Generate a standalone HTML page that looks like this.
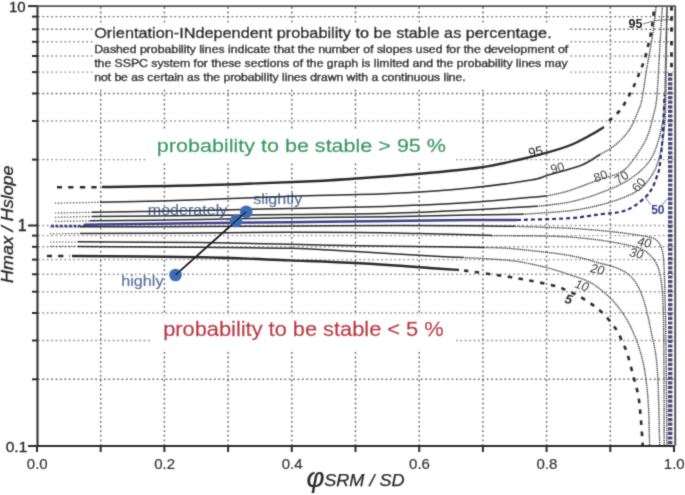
<!DOCTYPE html><html><head><meta charset="utf-8"><style>
html,body{margin:0;padding:0;background:#fff;width:685px;height:495px;overflow:hidden}
svg{display:block}
text{font-family:"Liberation Sans",sans-serif}
.tx{stroke-width:0.35px;paint-order:stroke}
</style></head><body><div>
<svg width="685" height="495" viewBox="0 0 685 495">
<defs><filter id="bl" filterUnits="userSpaceOnUse" x="0" y="0" width="685" height="495"><feConvolveMatrix order="3" kernelMatrix="0.0225 0.1050 0.0225 0.1050 0.4900 0.1050 0.0225 0.1050 0.0225" divisor="1" edgeMode="duplicate"/></filter></defs>
<rect width="685" height="495" fill="#fff"/>
<g filter="url(#bl)">
<g stroke="#7a7a7a" stroke-width="1.4" stroke-dasharray="1.7 2.7" fill="none">
<line x1="38" y1="16.6" x2="674" y2="16.6" stroke="#6a6a6a"/>
<line x1="38" y1="29.3" x2="674" y2="29.3" stroke="#6a6a6a"/>
<line x1="38" y1="41.8" x2="674" y2="41.8" stroke="#8e8e8e"/>
<line x1="38" y1="56.0" x2="674" y2="56.0" stroke="#8e8e8e"/>
<line x1="38" y1="72.1" x2="674" y2="72.1" stroke="#8e8e8e"/>
<line x1="38" y1="93.5" x2="674" y2="93.5" stroke="#6a6a6a"/>
<line x1="38" y1="121.0" x2="674" y2="121.0" stroke="#8e8e8e"/>
<line x1="38" y1="159.6" x2="674" y2="159.6" stroke="#8e8e8e"/>
<line x1="38" y1="225.5" x2="674" y2="225.5" stroke="#8e8e8e"/>
<line x1="38" y1="235.6" x2="674" y2="235.6" stroke="#8e8e8e"/>
<line x1="38" y1="246.8" x2="674" y2="246.8" stroke="#8e8e8e"/>
<line x1="38" y1="259.6" x2="674" y2="259.6" stroke="#8e8e8e"/>
<line x1="38" y1="274.3" x2="674" y2="274.3" stroke="#8e8e8e"/>
<line x1="38" y1="291.7" x2="674" y2="291.7" stroke="#8e8e8e"/>
<line x1="38" y1="313.0" x2="674" y2="313.0" stroke="#8e8e8e"/>
<line x1="38" y1="340.5" x2="674" y2="340.5" stroke="#8e8e8e"/>
<line x1="38" y1="379.3" x2="674" y2="379.3" stroke="#6a6a6a"/>
<line x1="100.7" y1="7" x2="100.7" y2="446" stroke="#646464" stroke-dasharray="1.8 2.8"/>
<line x1="164.4" y1="7" x2="164.4" y2="446" stroke="#646464" stroke-dasharray="1.8 2.8"/>
<line x1="228.1" y1="7" x2="228.1" y2="446" stroke="#646464" stroke-dasharray="1.8 2.8"/>
<line x1="291.8" y1="7" x2="291.8" y2="446" stroke="#646464" stroke-dasharray="1.8 2.8"/>
<line x1="355.5" y1="7" x2="355.5" y2="446" stroke="#646464" stroke-dasharray="1.8 2.8"/>
<line x1="419.2" y1="7" x2="419.2" y2="446" stroke="#646464" stroke-dasharray="1.8 2.8"/>
<line x1="482.9" y1="7" x2="482.9" y2="446" stroke="#646464" stroke-dasharray="1.8 2.8"/>
<line x1="546.6" y1="7" x2="546.6" y2="446" stroke="#646464" stroke-dasharray="1.8 2.8"/>
<line x1="610.3" y1="7" x2="610.3" y2="446" stroke="#646464" stroke-dasharray="1.8 2.8"/>
</g>
<rect x="93" y="23" width="475" height="65" fill="#fff"/>
<rect x="147" y="131" width="309" height="30.5" fill="#fff"/>
<rect x="151" y="315.5" width="304" height="33.5" fill="#fff"/>
<text x="147.8" y="215.4" font-size="14.0" fill="#54709c" stroke="#54709c" stroke-width="0.15" textLength="79.5" lengthAdjust="spacingAndGlyphs">moderately</text>
<text x="253.2" y="204.4" font-size="14.5" fill="#54709c" stroke="#54709c" stroke-width="0.15" textLength="49.0" lengthAdjust="spacingAndGlyphs">slightly</text>
<text x="121.2" y="285.7" font-size="15.0" fill="#54709c" stroke="#54709c" stroke-width="0.15" textLength="42.3" lengthAdjust="spacingAndGlyphs">highly</text>
<path d="M57.0,187.3 C63.8,187.3 91.2,187.3 98.0,187.3" fill="none" stroke="#2b2b2b" stroke-width="2.60" stroke-dasharray="5.2 6.2" stroke-linecap="butt" stroke-linejoin="round"/>
<path d="M102.0,187.0 C118.3,186.7 167.0,186.2 200.0,185.3 C233.0,184.4 273.3,183.0 300.0,181.8 C326.7,180.6 340.0,179.6 360.0,178.3 C380.0,177.0 400.0,175.6 420.0,173.8 C440.0,172.0 463.3,169.9 480.0,167.5 C496.7,165.1 508.8,162.0 520.0,159.5 C531.2,157.0 538.3,155.2 547.0,152.7 C555.7,150.2 564.5,147.6 572.0,144.5 C579.5,141.4 586.7,137.2 592.0,134.3 C597.3,131.4 602.0,128.2 604.0,127.0" fill="none" stroke="#2b2b2b" stroke-width="2.40" stroke-linecap="butt" stroke-linejoin="round"/>
<path d="M609.0,121.0 C610.8,119.2 617.2,113.8 620.0,110.5 C622.8,107.2 623.8,104.8 626.0,101.0 C628.2,97.2 630.7,92.9 633.0,88.0 C635.3,83.1 638.1,76.3 640.0,71.5 C641.9,66.7 643.4,63.2 644.6,59.3 C645.9,55.4 646.6,51.6 647.5,48.0 C648.4,44.4 649.3,41.2 650.0,37.9 C650.7,34.6 651.3,31.3 651.8,28.0 C652.3,24.7 652.8,21.5 653.2,18.0 C653.6,14.5 653.9,8.8 654.0,7.0" fill="none" stroke="#2b2b2b" stroke-width="2.60" stroke-dasharray="4.3 6.3" stroke-linecap="butt" stroke-linejoin="round"/>
<path d="M55.0,203.2 C62.5,203.0 92.5,202.5 100.0,202.3" fill="none" stroke="#2b2b2b" stroke-width="1.20" stroke-dasharray="1.5 1.5" opacity="0.80" stroke-linecap="butt" stroke-linejoin="round"/>
<path d="M100.0,202.3 C116.7,201.9 168.3,200.8 200.0,199.8 C231.7,198.8 258.3,197.3 290.0,196.3 C321.7,195.3 360.0,195.0 390.0,193.6 C420.0,192.2 446.5,190.3 470.0,188.0 C493.5,185.7 518.2,182.1 531.0,180.0 C543.8,177.9 538.5,178.0 547.0,175.5 C555.5,173.0 573.2,168.5 582.0,165.0 C590.8,161.5 597.0,156.2 600.0,154.5" fill="none" stroke="#2b2b2b" stroke-width="1.50" stroke-linecap="butt" stroke-linejoin="round"/>
<path d="M582.0,165.0 C585.0,163.2 595.2,157.3 600.0,154.5 C604.8,151.7 607.3,150.8 610.9,148.2 C614.5,145.6 618.5,142.5 621.8,139.0 C625.1,135.5 628.2,132.0 630.9,127.3 C633.6,122.6 636.4,115.5 638.2,110.9 C640.0,106.4 640.4,106.8 641.8,100.0 C643.2,93.2 645.0,79.2 646.5,70.0 C648.0,60.8 649.8,52.5 651.0,45.0 C652.2,37.5 653.2,31.3 654.0,25.0 C654.8,18.7 655.7,10.0 656.0,7.0" fill="none" stroke="#3a3a3a" stroke-width="1.40" stroke-dasharray="1.3 0.8" stroke-linecap="butt" stroke-linejoin="round"/>
<path d="M55.0,213.0 C61.2,212.9 85.8,212.4 92.0,212.3" fill="none" stroke="#2b2b2b" stroke-width="1.20" stroke-dasharray="1.5 1.5" opacity="0.80" stroke-linecap="butt" stroke-linejoin="round"/>
<path d="M92.0,212.2 C100.0,212.1 122.0,211.8 140.0,211.5 C158.0,211.2 175.0,211.1 200.0,210.6 C225.0,210.1 258.3,209.1 290.0,208.4 C321.7,207.7 360.0,207.3 390.0,206.3 C420.0,205.3 444.0,204.3 470.0,202.6 C496.0,200.9 533.3,197.1 546.0,196.0" fill="none" stroke="#2b2b2b" stroke-width="1.50" stroke-linecap="butt" stroke-linejoin="round"/>
<path d="M546.0,196.0 C549.7,195.2 558.8,193.8 568.0,191.0 C577.2,188.2 592.5,182.0 601.0,179.0 C609.5,176.0 614.2,175.5 619.0,173.0 C623.8,170.5 625.5,169.6 630.0,164.0 C634.5,158.4 642.0,147.9 646.0,139.4 C650.0,130.9 652.2,120.4 654.0,113.0 C655.8,105.6 656.0,106.4 657.0,95.0 C658.0,83.6 659.1,59.2 660.0,44.5 C660.9,29.8 661.9,13.2 662.3,7.0" fill="none" stroke="#3a3a3a" stroke-width="1.40" stroke-dasharray="1.3 0.8" stroke-linecap="butt" stroke-linejoin="round"/>
<path d="M55.0,217.3 C61.2,217.2 85.8,216.6 92.0,216.5" fill="none" stroke="#2b2b2b" stroke-width="1.20" stroke-dasharray="1.5 1.5" opacity="0.80" stroke-linecap="butt" stroke-linejoin="round"/>
<path d="M92.0,216.5 C110.0,216.3 167.0,215.9 200.0,215.6 C233.0,215.3 258.3,215.0 290.0,214.6 C321.7,214.2 360.0,214.1 390.0,213.3 C420.0,212.5 445.5,211.2 470.0,210.0 C494.5,208.8 525.8,206.9 537.0,206.3" fill="none" stroke="#2b2b2b" stroke-width="1.50" stroke-linecap="butt" stroke-linejoin="round"/>
<path d="M537.0,206.3 C542.5,205.6 559.5,204.2 570.0,202.0 C580.5,199.8 590.0,196.8 600.0,193.0 C610.0,189.2 621.4,184.8 630.0,179.0 C638.6,173.2 646.1,166.8 651.4,158.0 C656.7,149.2 659.8,135.7 662.0,126.0 C664.2,116.3 663.8,114.3 664.5,100.0 C665.2,85.7 665.6,55.5 666.0,40.0 C666.4,24.5 666.8,12.5 667.0,7.0" fill="none" stroke="#3a3a3a" stroke-width="1.40" stroke-dasharray="1.3 0.8" stroke-linecap="butt" stroke-linejoin="round"/>
<path d="M55.0,221.4 C60.8,221.3 84.2,220.9 90.0,220.8" fill="none" stroke="#2b2b2b" stroke-width="1.20" stroke-dasharray="1.5 1.5" opacity="0.80" stroke-linecap="butt" stroke-linejoin="round"/>
<path d="M90.0,220.8 C108.3,220.6 166.7,220.1 200.0,219.6 C233.3,219.1 258.3,218.3 290.0,217.8 C321.7,217.3 360.0,217.3 390.0,216.8 C420.0,216.3 447.8,215.4 470.0,215.0 C492.2,214.6 514.2,214.4 523.0,214.3" fill="none" stroke="#2b2b2b" stroke-width="1.50" stroke-linecap="butt" stroke-linejoin="round"/>
<path d="M523.0,214.3 C530.8,213.7 557.2,212.2 570.0,210.7 C582.8,209.1 590.8,207.3 600.0,205.0 C609.2,202.7 618.3,199.7 625.0,197.0 C631.7,194.3 635.8,192.2 640.0,189.0 C644.2,185.8 647.2,182.0 650.0,178.0 C652.8,174.0 655.0,170.5 657.0,165.0 C659.0,159.5 660.8,151.5 662.0,145.0 C663.2,138.5 663.9,133.5 664.5,126.0 C665.1,118.5 665.4,119.8 665.8,100.0 C666.2,80.2 666.8,22.5 667.0,7.0" fill="none" stroke="#3a3a3a" stroke-width="1.40" stroke-dasharray="1.3 0.8" stroke-linecap="butt" stroke-linejoin="round"/>
<path d="M51.0,226.0 C56.5,226.0 78.5,226.0 84.0,226.0" fill="none" stroke="#2a2f78" stroke-width="2.60" stroke-dasharray="3 1.5" opacity="0.90" stroke-linecap="butt" stroke-linejoin="round"/>
<path d="M84.0,224.8 C93.3,224.7 122.3,224.2 140.0,224.0 C157.7,223.8 165.0,223.6 190.0,223.3 C215.0,223.0 256.7,222.6 290.0,222.2 C323.3,221.8 360.0,221.3 390.0,221.0 C420.0,220.7 448.8,220.3 470.0,220.1 C491.2,219.9 509.2,220.0 517.0,220.0" fill="none" stroke="#3a418e" stroke-width="2.50" stroke-linecap="butt" stroke-linejoin="round"/>
<path d="M517.0,220.0 C525.8,219.7 556.2,219.1 570.0,218.2 C583.8,217.2 591.7,215.3 600.0,214.3 C608.3,213.3 614.5,213.2 620.0,212.0 C625.5,210.8 628.6,209.4 633.0,206.8 C637.4,204.2 643.0,199.6 646.3,196.3 C649.6,193.0 651.0,190.3 652.8,187.0 C654.5,183.7 655.7,179.8 656.8,176.6 C657.9,173.4 658.5,173.3 659.4,168.0 C660.3,162.7 661.3,153.0 662.0,145.0 C662.7,137.0 663.1,128.3 663.5,120.0 C663.9,111.7 664.3,99.2 664.5,95.0" fill="none" stroke="#2a2f78" stroke-width="2.20" stroke-dasharray="4 3" stroke-linecap="butt" stroke-linejoin="round"/>
<line x1="670.2" y1="73" x2="670.2" y2="446" stroke="#2a2c62" stroke-width="4.4" stroke-dasharray="3.2 1.4" opacity="0.85"/>
<line x1="671.5" y1="6.2" x2="671.5" y2="10.6" stroke="#2b2b2b" stroke-width="2.8"/>
<line x1="671.5" y1="16.4" x2="671.5" y2="20.8" stroke="#2b2b2b" stroke-width="2.8"/>
<line x1="671.5" y1="27.3" x2="671.5" y2="31.7" stroke="#2b2b2b" stroke-width="2.8"/>
<line x1="671.5" y1="41.0" x2="671.5" y2="45.4" stroke="#2b2b2b" stroke-width="2.8"/>
<line x1="671.5" y1="52.3" x2="671.5" y2="56.7" stroke="#2b2b2b" stroke-width="2.8"/>
<line x1="671.5" y1="62.8" x2="671.5" y2="67.2" stroke="#2b2b2b" stroke-width="2.8"/>
<path d="M50.0,227.0 C55.0,227.0 75.0,227.0 80.0,227.0" fill="none" stroke="#2b2b2b" stroke-width="1.20" stroke-dasharray="1.5 1.5" opacity="0.80" stroke-linecap="butt" stroke-linejoin="round"/>
<path d="M80.0,226.8 C100.0,226.8 163.3,226.7 200.0,226.6 C236.7,226.5 266.7,226.2 300.0,226.0 C333.3,225.8 371.7,225.6 400.0,225.6 C428.3,225.6 450.8,225.7 470.0,225.8 C489.2,225.9 507.5,226.2 515.0,226.3" fill="none" stroke="#2b2b2b" stroke-width="1.50" stroke-linecap="butt" stroke-linejoin="round"/>
<path d="M515.0,226.3 C524.2,226.6 555.8,227.6 570.0,228.3 C584.2,229.0 591.7,229.8 600.0,230.5 C608.3,231.2 613.7,231.8 620.0,232.6 C626.3,233.3 632.9,234.3 637.6,235.0 C642.3,235.7 645.1,236.0 648.0,236.7 C650.9,237.4 653.2,237.9 655.0,239.0 C656.8,240.1 657.9,241.5 659.0,243.0 C660.1,244.5 660.8,245.9 661.5,248.0 C662.2,250.1 662.8,251.7 663.2,255.4 C663.7,259.1 663.9,263.2 664.2,270.0 C664.5,276.8 664.7,283.5 665.0,296.0 C665.3,308.5 665.7,320.0 666.0,345.0 C666.3,370.0 666.8,429.2 667.0,446.0" fill="none" stroke="#3a3a3a" stroke-width="1.40" stroke-dasharray="1.3 0.8" stroke-linecap="butt" stroke-linejoin="round"/>
<path d="M50.0,233.8 C55.0,233.8 75.0,233.6 80.0,233.6" fill="none" stroke="#2b2b2b" stroke-width="1.20" stroke-dasharray="1.5 1.5" opacity="0.80" stroke-linecap="butt" stroke-linejoin="round"/>
<path d="M80.0,233.6 C100.0,233.5 165.0,233.2 200.0,233.0 C235.0,232.8 263.3,232.4 290.0,232.3 C316.7,232.2 338.3,232.3 360.0,232.5 C381.7,232.7 401.7,233.2 420.0,233.6 C438.3,234.0 458.0,234.5 470.0,234.8 C482.0,235.1 488.3,235.3 492.0,235.4" fill="none" stroke="#2b2b2b" stroke-width="1.50" stroke-linecap="butt" stroke-linejoin="round"/>
<path d="M492.0,235.6 C498.3,235.6 518.7,235.7 530.0,235.8 C541.3,236.0 550.8,236.1 560.0,236.5 C569.2,236.9 576.9,237.6 585.0,238.4 C593.1,239.2 600.6,240.1 608.4,241.4 C616.2,242.7 625.9,244.6 631.7,246.0 C637.5,247.4 640.3,248.4 643.4,250.0 C646.5,251.6 648.2,253.2 650.4,255.4 C652.5,257.6 654.7,260.4 656.3,263.5 C657.9,266.6 659.0,269.6 660.0,274.0 C661.0,278.4 661.7,284.0 662.2,290.0 C662.7,296.0 662.9,300.8 663.2,310.0 C663.5,319.2 663.6,322.3 663.8,345.0 C664.0,367.7 664.1,429.2 664.2,446.0" fill="none" stroke="#3a3a3a" stroke-width="1.40" stroke-dasharray="1.3 0.8" stroke-linecap="butt" stroke-linejoin="round"/>
<path d="M50.0,242.0 C54.7,242.0 73.3,242.0 78.0,242.0" fill="none" stroke="#2b2b2b" stroke-width="1.20" stroke-dasharray="1.5 1.5" opacity="0.80" stroke-linecap="butt" stroke-linejoin="round"/>
<path d="M78.0,241.8 C98.3,241.9 164.7,242.2 200.0,242.6 C235.3,243.0 263.3,243.7 290.0,244.2 C316.7,244.7 335.0,245.4 360.0,245.8 C385.0,246.2 419.3,246.5 440.0,246.8 C460.7,247.1 476.7,247.4 484.0,247.5" fill="none" stroke="#2b2b2b" stroke-width="1.50" stroke-linecap="butt" stroke-linejoin="round"/>
<path d="M484.0,247.5 C488.3,247.7 497.3,247.4 510.0,248.5 C522.7,249.6 547.5,252.3 560.0,254.0 C572.5,255.7 578.9,257.5 585.0,258.9 C591.1,260.3 592.4,261.2 596.7,262.4 C601.0,263.6 606.8,264.7 610.7,265.9 C614.6,267.1 616.9,267.8 620.0,269.4 C623.1,270.9 626.7,272.9 629.4,275.2 C632.1,277.5 634.0,279.9 636.0,283.0 C638.0,286.1 639.8,289.8 641.5,294.0 C643.2,298.2 644.4,302.2 646.0,308.4 C647.6,314.6 649.1,321.1 651.0,331.0 C652.9,340.9 655.8,348.8 657.2,368.0 C658.7,387.2 659.3,433.0 659.7,446.0" fill="none" stroke="#3a3a3a" stroke-width="1.40" stroke-dasharray="1.3 0.8" stroke-linecap="butt" stroke-linejoin="round"/>
<path d="M50.0,246.4 C54.7,246.4 73.3,246.4 78.0,246.4" fill="none" stroke="#2b2b2b" stroke-width="1.20" stroke-dasharray="1.5 1.5" opacity="0.80" stroke-linecap="butt" stroke-linejoin="round"/>
<path d="M78.0,246.4 C98.3,246.6 164.7,247.0 200.0,247.3 C235.3,247.6 263.3,247.6 290.0,248.3 C316.7,249.1 335.0,250.5 360.0,251.8 C385.0,253.2 422.8,255.4 440.0,256.4 C457.2,257.3 459.2,257.3 463.0,257.5" fill="none" stroke="#2b2b2b" stroke-width="1.50" stroke-linecap="butt" stroke-linejoin="round"/>
<path d="M463.0,257.5 C470.8,258.0 497.2,259.1 510.0,260.5 C522.8,261.9 531.7,264.2 540.0,266.0 C548.3,267.8 554.7,269.9 560.0,271.5 C565.3,273.1 567.8,274.1 572.0,275.5 C576.2,276.9 581.0,278.2 585.0,280.0 C589.0,281.8 591.9,283.1 596.0,286.0 C600.1,288.9 605.7,293.6 609.5,297.3 C613.3,301.0 615.9,303.9 619.0,308.0 C622.1,312.1 625.4,316.8 628.2,322.0 C631.0,327.2 633.8,333.3 636.0,339.0 C638.2,344.7 639.9,349.8 641.5,356.0 C643.1,362.2 644.4,367.8 645.5,376.0 C646.6,384.2 647.7,393.3 648.4,405.0 C649.1,416.7 649.4,439.2 649.6,446.0" fill="none" stroke="#3a3a3a" stroke-width="1.40" stroke-dasharray="1.3 0.8" stroke-linecap="butt" stroke-linejoin="round"/>
<path d="M47.0,256.0 C50.8,256.0 66.2,256.0 70.0,256.0" fill="none" stroke="#2b2b2b" stroke-width="2.60" stroke-dasharray="5 6.2" stroke-linecap="butt" stroke-linejoin="round"/>
<path d="M72.0,256.0 C93.3,256.2 163.7,256.5 200.0,257.2 C236.3,257.9 263.3,259.4 290.0,260.4 C316.7,261.4 335.0,261.9 360.0,263.3 C385.0,264.7 423.5,267.6 440.0,268.7 C456.5,269.8 455.8,269.8 459.0,270.0" fill="none" stroke="#2b2b2b" stroke-width="2.40" stroke-linecap="butt" stroke-linejoin="round"/>
<path d="M464.0,270.5 C471.7,271.6 498.2,275.1 510.0,277.0 C521.8,278.9 527.3,280.1 535.0,281.6 C542.7,283.1 550.8,284.8 556.0,286.2 C561.2,287.6 562.6,288.8 566.0,290.2 C569.4,291.6 573.1,293.1 576.5,294.8 C579.9,296.6 583.3,298.7 586.5,300.7 C589.7,302.7 592.7,304.8 595.5,307.0 C598.3,309.2 600.8,311.1 603.5,313.8 C606.2,316.6 609.4,320.4 611.8,323.5 C614.2,326.6 616.1,329.0 618.0,332.4 C619.9,335.8 621.5,340.3 623.0,343.7 C624.5,347.1 625.3,347.4 627.0,352.7 C628.7,358.0 631.3,368.3 633.2,375.5 C635.1,382.7 637.0,388.6 638.3,395.7 C639.6,402.8 640.0,410.0 640.8,418.4 C641.5,426.8 642.5,441.4 642.8,446.0" fill="none" stroke="#2b2b2b" stroke-width="2.60" stroke-dasharray="4.5 6.5" stroke-linecap="butt" stroke-linejoin="round"/>
<path d="M643,24 L655,20.5 L671,19.5" stroke="#555" stroke-width="0.8" fill="none"/>
<path d="M651,205 L645,197 M662,205 L669,197" stroke="#5560a0" stroke-width="0.8" fill="none"/>
<g stroke="#2a2a2a" fill="none">
<line x1="37.5" y1="5" x2="37.5" y2="447" stroke-width="2"/>
<line x1="36.5" y1="446" x2="675" y2="446" stroke-width="2"/>
<line x1="37" y1="6.1" x2="675" y2="6.1" stroke-width="1.6" stroke="#555"/>
<line x1="675.2" y1="5.5" x2="675.2" y2="446" stroke-width="2" stroke="#555"/>
<line x1="28" y1="6.1" x2="37" y2="6.1" stroke-width="2"/>
<line x1="32" y1="16.6" x2="37" y2="16.6" stroke-width="2"/>
<line x1="32" y1="29.3" x2="37" y2="29.3" stroke-width="2"/>
<line x1="32" y1="41.8" x2="37" y2="41.8" stroke-width="2"/>
<line x1="32" y1="56.0" x2="37" y2="56.0" stroke-width="2"/>
<line x1="32" y1="72.1" x2="37" y2="72.1" stroke-width="2"/>
<line x1="32" y1="93.5" x2="37" y2="93.5" stroke-width="2"/>
<line x1="32" y1="121.0" x2="37" y2="121.0" stroke-width="2"/>
<line x1="32" y1="159.6" x2="37" y2="159.6" stroke-width="2"/>
<line x1="28" y1="225.5" x2="37" y2="225.5" stroke-width="2"/>
<line x1="32" y1="235.6" x2="37" y2="235.6" stroke-width="2"/>
<line x1="32" y1="246.8" x2="37" y2="246.8" stroke-width="2"/>
<line x1="32" y1="259.6" x2="37" y2="259.6" stroke-width="2"/>
<line x1="32" y1="274.3" x2="37" y2="274.3" stroke-width="2"/>
<line x1="32" y1="291.7" x2="37" y2="291.7" stroke-width="2"/>
<line x1="32" y1="313.0" x2="37" y2="313.0" stroke-width="2"/>
<line x1="32" y1="340.5" x2="37" y2="340.5" stroke-width="2"/>
<line x1="32" y1="379.3" x2="37" y2="379.3" stroke-width="2"/>
<line x1="28" y1="446.0" x2="37" y2="446.0" stroke-width="2"/>
<line x1="37.0" y1="446" x2="37.0" y2="452" stroke-width="2"/>
<line x1="100.7" y1="446" x2="100.7" y2="452" stroke-width="2"/>
<line x1="164.4" y1="446" x2="164.4" y2="452" stroke-width="2"/>
<line x1="228.1" y1="446" x2="228.1" y2="452" stroke-width="2"/>
<line x1="291.8" y1="446" x2="291.8" y2="452" stroke-width="2"/>
<line x1="355.5" y1="446" x2="355.5" y2="452" stroke-width="2"/>
<line x1="419.2" y1="446" x2="419.2" y2="452" stroke-width="2"/>
<line x1="482.9" y1="446" x2="482.9" y2="452" stroke-width="2"/>
<line x1="546.6" y1="446" x2="546.6" y2="452" stroke-width="2"/>
<line x1="610.3" y1="446" x2="610.3" y2="452" stroke-width="2"/>
<line x1="674.0" y1="446" x2="674.0" y2="452" stroke-width="2"/>
</g>
<line x1="175.5" y1="275" x2="246.2" y2="211.8" stroke="#1a1a1a" stroke-width="1.6"/>
<circle cx="175.5" cy="275" r="6.3" fill="#3e6db5"/>
<circle cx="235.9" cy="221" r="6.3" fill="#3e6db5"/>
<circle cx="246.2" cy="211.8" r="6.3" fill="#3e6db5"/>
<line x1="175.5" y1="275" x2="246.2" y2="211.8" stroke="#1a1a1a" stroke-width="1.4"/>
<text x="94.2" y="37.6" font-size="15.4" fill="#141414" stroke="#141414" stroke-width="0.40" textLength="457.5" lengthAdjust="spacingAndGlyphs">Orientation-INdependent probability to be stable as percentage.</text>
<text x="94.2" y="52.6" font-size="11.7" fill="#1a1a1a" stroke="#1a1a1a" stroke-width="0.45" textLength="474.0" lengthAdjust="spacingAndGlyphs">Dashed probability lines indicate that the number of slopes used for the development of</text>
<text x="94.2" y="66.6" font-size="11.7" fill="#1a1a1a" stroke="#1a1a1a" stroke-width="0.45" textLength="473.5" lengthAdjust="spacingAndGlyphs">the SSPC system for these sections of the graph is limited and the probability lines may</text>
<text x="94.2" y="80.6" font-size="11.7" fill="#1a1a1a" stroke="#1a1a1a" stroke-width="0.45" textLength="371.5" lengthAdjust="spacingAndGlyphs">not be as certain as the probability lines drawn with a continuous line.</text>
<text x="156.8" y="152.0" font-size="19.0" fill="#2a9a60" stroke="#2a9a60" stroke-width="0.30" textLength="289.2" lengthAdjust="spacingAndGlyphs">probability to be stable &gt; 95 %</text>
<text x="163.2" y="335.5" font-size="19.5" fill="#bd2f3f" stroke="#bd2f3f" stroke-width="0.30" textLength="280.5" lengthAdjust="spacingAndGlyphs">probability to be stable &lt; 5 %</text>
<text x="25.6" y="11.8" font-size="15.0" fill="#262626" stroke="#262626" stroke-width="0.30" text-anchor="end">10</text>
<text x="26.6" y="231.4" font-size="16.0" fill="#262626" stroke="#262626" stroke-width="0.30" text-anchor="end">1</text>
<text x="27.3" y="451.6" font-size="15.5" fill="#262626" stroke="#262626" stroke-width="0.30" text-anchor="end">0.1</text>
<text x="37.3" y="468.7" font-size="15.0" fill="#333" stroke="#333" stroke-width="0.20" text-anchor="middle">0.0</text>
<text x="164.7" y="468.7" font-size="15.0" fill="#333" stroke="#333" stroke-width="0.20" text-anchor="middle">0.2</text>
<text x="292.1" y="468.7" font-size="15.0" fill="#333" stroke="#333" stroke-width="0.20" text-anchor="middle">0.4</text>
<text x="419.5" y="468.7" font-size="15.0" fill="#333" stroke="#333" stroke-width="0.20" text-anchor="middle">0.6</text>
<text x="546.9" y="468.7" font-size="15.0" fill="#333" stroke="#333" stroke-width="0.20" text-anchor="middle">0.8</text>
<text x="674.3" y="468.7" font-size="15.0" fill="#333" stroke="#333" stroke-width="0.20" text-anchor="middle">1.0</text>
<text x="0" y="0" font-size="16.3" font-style="italic" fill="#262626" stroke="#262626" stroke-width="0.3" transform="translate(13.4,224.2) rotate(-90)" text-anchor="middle" textLength="117.5" lengthAdjust="spacingAndGlyphs">Hmax / Hslope</text>
<text x="306.6" y="486.5" font-size="27.5" font-style="italic" fill="#2a2a2a" stroke="#2a2a2a" stroke-width="0.2" font-family="Liberation Serif">&#966;</text>
<text x="324.2" y="486.0" font-size="16.5" fill="#2a2a2a" stroke="#2a2a2a" stroke-width="0.25" textLength="80.5" lengthAdjust="spacingAndGlyphs" font-style="italic">SRM / SD</text>
<text x="0" y="0" font-size="13.0" fill="#222" text-anchor="middle" transform="translate(536.5,156.0) rotate(-12.0)">95</text>
<text x="0" y="0" font-size="12.5" fill="#444" text-anchor="middle" transform="translate(558.5,172.0) rotate(-15.0)">90</text>
<text x="0" y="0" font-size="12.5" fill="#444" text-anchor="middle" transform="translate(602.0,180.0) rotate(-20.0)">80</text>
<text x="0" y="0" font-size="12.5" fill="#444" text-anchor="middle" transform="translate(624.0,181.0) rotate(-35.0)">70</text>
<text x="0" y="0" font-size="12.5" fill="#444" text-anchor="middle" transform="translate(642.0,187.5) rotate(-50.0)">60</text>
<text x="0" y="0" font-size="12.0" fill="#34408a" text-anchor="middle" font-weight="bold" transform="translate(657.8,214.0) rotate(0.0)">50</text>
<text x="0" y="0" font-size="12.5" fill="#3a3a3a" text-anchor="middle" font-style="italic" transform="translate(643.5,246.5) rotate(10.0)">40</text>
<text x="0" y="0" font-size="12.5" fill="#3a3a3a" text-anchor="middle" font-style="italic" transform="translate(635.5,257.5) rotate(12.0)">30</text>
<text x="0" y="0" font-size="12.5" fill="#3a3a3a" text-anchor="middle" font-style="italic" transform="translate(596.5,273.5) rotate(12.0)">20</text>
<text x="0" y="0" font-size="12.5" fill="#3a3a3a" text-anchor="middle" font-style="italic" transform="translate(580.5,289.5) rotate(18.0)">10</text>
<text x="0" y="0" font-size="13.0" fill="#2a2a2a" text-anchor="middle" font-weight="bold" font-style="italic" transform="translate(567.6,303.5) rotate(15.0)">5</text>
<text x="0" y="0" font-size="12.5" fill="#222" text-anchor="middle" font-weight="bold" transform="translate(635.4,28.0) rotate(0.0)">95</text>
</g></svg></div></body></html>
